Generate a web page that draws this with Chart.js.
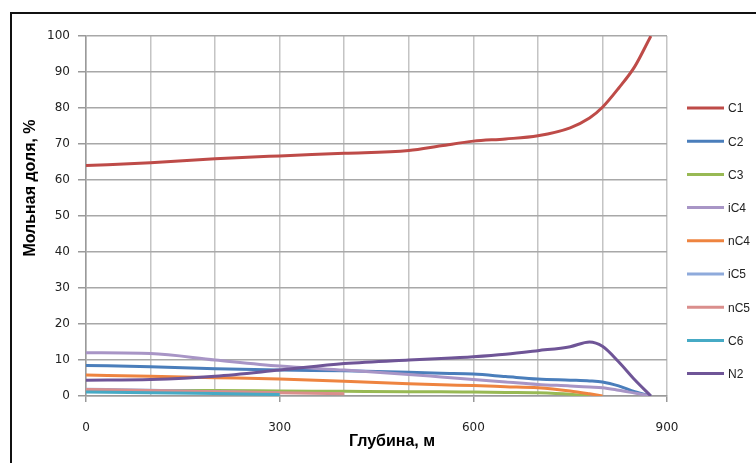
<!DOCTYPE html>
<html lang="ru">
<head>
    <meta charset="UTF-8">
    <title>Мольная доля по глубине</title>
    <script src="https://cdn.jsdelivr.net/npm/chart.js@4.4.1/dist/chart.umd.min.js"></script>
    <style>
        body { margin: 0; background: #fff; }
        .wrap { position: relative; width: 756px; height: 463px; overflow: hidden; }
        /* frame of the original picture, cut at right/bottom */
        .frame {
            position: absolute; left: 10px; top: 12px; width: 800px; height: 500px;
            border-left: 2px solid #111; border-top: 2px solid #111;
        }
        canvas { position: absolute; left: 0; top: 0; }
    </style>
</head>
<body>
<div class="wrap">
    <div class="frame"></div>
    <canvas id="chart" width="756" height="463"></canvas>
</div>
<script>
// Data
const depths = [0, 100, 200, 300, 400, 500, 550, 600, 650, 700, 750, 780, 800, 825, 850, 875];

const c1  = [64.0, 64.8, 65.9, 66.7, 67.4, 68.2, 69.5, 70.8, 71.4, 72.3, 74.5, 77.2, 80.2, 85.5, 91.5, 100];
const c2  = [8.5, 8.1, 7.6, 7.2, 7.0, 6.6, 6.3, 6.1, 5.4, 4.7, 4.4, 4.2, 3.9, 2.8, 1.2, 0];
const c3  = [1.5, 1.5, 1.5, 1.4, 1.3, 1.2, 1.2, 1.1, 1.0, 0.9, 0.5, 0, null, null, null, null];
const ic4 = [12.0, 11.8, 10.0, 8.3, 7.2, 6.0, 5.3, 4.6, 3.9, 3.2, 2.8, 2.5, 2.3, 1.6, 0.8, 0];
const nc4 = [5.8, 5.5, 5.1, 4.7, 4.1, 3.4, 3.1, 2.9, 2.6, 2.3, 1.4, 0.6, 0, null, null, null];
const ic5 = [1.9, 1.6, 1.2, 0.8, null, null, null, null, null, null, null, null, null, null, null, null];
const nc5 = [1.8, 1.5, 1.2, 0.9, 0.6, null, null, null, null, null, null, null, null, null, null, null];
const c6  = [1.1, 0.9, 0.7, 0.4, null, null, null, null, null, null, null, null, null, null, null, null];
const n2  = [4.4, 4.6, 5.5, 7.2, 9.0, 10.0, 10.4, 10.9, 11.6, 12.6, 13.7, 15.0, 13.8, 9.5, 4.5, 0];

const names  = ['C1', 'C2', 'C3', 'iC4', 'nC4', 'iC5', 'nC5', 'C6', 'N2'];
const series = [c1, c2, c3, ic4, nc4, ic5, nc5, c6, n2];
const colors = ['#BE4B48', '#4A7EBB', '#98B954', '#A895C6', '#EE8440', '#8EAADB', '#DA8E8C', '#46AAC5', '#6F5597'];

const xTicks = [0, 300, 600, 900];
const xGrid  = [0, 100, 200, 300, 400, 500, 600, 700, 800, 900];
const xTitle = 'Глубина, м';
const yTitle = 'Мольная доля, %';

function toPoints(vals) {
    return vals.map((v, i) => ({ x: depths[i], y: v }));
}

// legend drawn on the right like the Excel original
const sideLegend = {
    id: 'sideLegend',
    afterDraw(chart) {
        const ctx = chart.ctx;
        ctx.save();
        ctx.font = '12px "Liberation Sans", Arial, sans-serif';
        ctx.textBaseline = 'middle';
        chart.data.datasets.forEach((ds, i) => {
            const y = 108 + i * 33.2;
            ctx.strokeStyle = ds.borderColor;
            ctx.lineWidth = 3;
            ctx.beginPath();
            ctx.moveTo(687, y);
            ctx.lineTo(724, y);
            ctx.stroke();
            ctx.fillStyle = '#222';
            ctx.fillText(ds.label, 728, y + 1);
        });
        ctx.restore();
    }
};

// axis titles, placed where Excel put them (slightly off-centre)
const axisTitles = {
    id: 'axisTitles',
    afterDraw(chart) {
        const ctx = chart.ctx;
        ctx.save();
        ctx.fillStyle = '#000';
        ctx.textAlign = 'center';
        ctx.textBaseline = 'middle';
        ctx.font = 'bold 16px "Liberation Sans", Arial, sans-serif';
        ctx.fillText(xTitle, 392, 442);
        ctx.translate(31, 188);
        ctx.rotate(-Math.PI / 2);
        ctx.fillText(yTitle, 0, 0);
        ctx.restore();
    }
};

const ctx = document.getElementById('chart').getContext('2d');
new Chart(ctx, {
    type: 'line',
    data: {
        datasets: series.map((vals, i) => ({
            label: names[i],
            data: toPoints(vals),
            borderColor: colors[i],
            backgroundColor: colors[i],
            borderWidth: 3,
            pointRadius: 0,
            cubicInterpolationMode: 'monotone',
            spanGaps: false,
            order: series.length - i
        }))
    },
    options: {
        responsive: false,
        animation: false,
        layout: { padding: { left: 0, top: 36, right: 89, bottom: 0 } },
        plugins: {
            legend: { display: false },
            tooltip: { enabled: false }
        },
        scales: {
            x: {
                type: 'linear',
                min: 0,
                max: 900,
                afterBuildTicks: function(scale) {
                    scale.ticks = xGrid.map(v => ({ value: v }));
                },
                afterFit: function(scale) { scale.height = 67; },
                ticks: {
                    padding: 19,
                    color: '#222',
                    font: { family: '"DejaVu Sans", Verdana, sans-serif', size: 12 },
                    maxRotation: 0,
                    autoSkip: false,
                    callback: function(value) {
                        return xTicks.includes(value) ? String(value) : '';
                    }
                },
                grid: {
                    color: '#C4C4C4',
                    lineWidth: 1.5,
                    tickLength: 6,
                    tickColor: function(c) {
                        return xTicks.includes(c.tick.value) ? '#999' : 'rgba(0,0,0,0)';
                    }
                },
                border: { color: '#9A9A9A', width: 1.5 },
                title: { display: false }
            },
            y: {
                min: 0,
                max: 100,
                afterFit: function(scale) { scale.width = 86; },
                ticks: {
                    stepSize: 10,
                    padding: 8,
                    color: '#222',
                    font: { family: '"DejaVu Sans", Verdana, sans-serif', size: 12 }
                },
                grid: {
                    color: '#A8A8A8',
                    lineWidth: 1.5,
                    tickLength: 8,
                    tickColor: '#999'
                },
                border: { color: '#9A9A9A', width: 1.5 },
                title: { display: false }
            }
        }
    },
    plugins: [sideLegend, axisTitles]
});
</script>
</body>
</html>
